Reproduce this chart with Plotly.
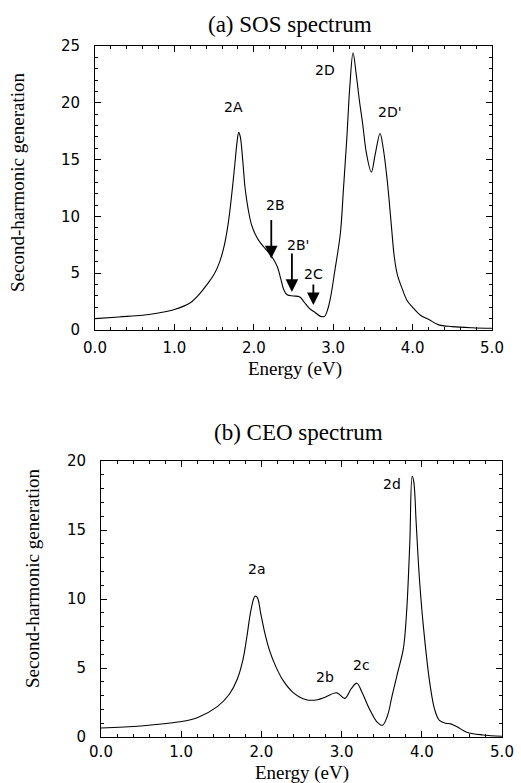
import plotly.graph_objects as go

# ---------------- data ----------------
sos_energy = [0.0, 0.3, 0.6, 0.8, 1.0, 1.2, 1.32, 1.41, 1.50, 1.57, 1.63, 1.68, 1.72, 1.76, 1.79,
              1.81, 1.83, 1.86, 1.89, 1.93, 1.97, 2.02, 2.07, 2.14, 2.20, 2.25, 2.30, 2.34, 2.38,
              2.42, 2.50, 2.58, 2.64, 2.70, 2.78, 2.84, 2.89, 2.93, 2.97, 3.02, 3.09, 3.13, 3.17,
              3.21, 3.25, 3.29, 3.33, 3.37, 3.42, 3.48, 3.53, 3.59, 3.63, 3.68, 3.73, 3.77, 3.81,
              3.86, 3.93, 4.00, 4.10, 4.21, 4.33, 4.50, 4.75, 5.00]
sos_shg = [1.0, 1.15, 1.3, 1.5, 1.8, 2.4, 3.2, 4.0, 4.9, 6.0, 7.5, 9.5, 11.8, 14.5, 16.6,
           17.4, 17.0, 15.0, 12.5, 10.6, 9.3, 8.4, 7.8, 7.2, 6.7, 6.2, 5.5, 4.5, 3.5,
           3.1, 3.0, 2.9, 2.4, 1.9, 1.5, 1.2, 1.2, 1.8, 3.0, 5.2, 8.5, 12.5, 16.7,
           21.5, 24.4, 22.5, 20.2, 18.2, 15.5, 13.9, 15.5, 17.3, 16.0, 13.2, 9.4, 6.4, 4.8,
           3.8, 2.6, 2.0, 1.3, 0.9, 0.45, 0.3, 0.2, 0.15]

ceo_energy = [0.0, 0.5, 0.98, 1.2, 1.45, 1.60, 1.70, 1.77, 1.82, 1.87, 1.92, 1.95, 1.99, 2.04,
              2.10, 2.18, 2.27, 2.40, 2.56, 2.70, 2.80, 2.94, 3.04, 3.12, 3.19, 3.25, 3.35,
              3.44, 3.51, 3.57, 3.63, 3.70, 3.77, 3.81, 3.85, 3.88, 3.90, 3.93, 3.97, 4.02,
              4.10, 4.16, 4.22, 4.30, 4.36, 4.45, 4.56, 4.76, 5.00]
ceo_shg = [0.65, 0.8, 1.1, 1.4, 2.2, 3.1, 4.2, 5.6, 7.3, 9.2, 10.2, 10.1, 9.0, 7.6,
           6.3, 5.1, 4.1, 3.2, 2.7, 2.7, 2.9, 3.2, 2.8, 3.5, 3.9, 3.3, 2.0,
           1.1, 0.85, 1.5, 3.0, 4.7, 6.4, 9.0, 14.0, 18.9, 18.5, 15.5, 11.5, 8.0,
           3.9, 2.0, 1.2, 1.0, 0.95, 0.7, 0.35, 0.15, 0.05]

sos_labels = ["2A", "2D", "2D'"]
sos_label_x = [1.74, 2.90, 3.72]
sos_label_y = [19.6, 22.9, 19.2]

arrow_labels = ["2B", "2B'", "2C"]
arrow_label_x = [2.27, 2.56, 2.75]
arrow_label_y = [11.0, 7.5, 4.9]
arrow_tip_x = [2.22, 2.48, 2.75]
arrow_tip_y = [6.3, 3.35, 2.2]
arrow_len = [40, 40, 22]

ceo_labels = ["2a", "2b", "2c", "2d"]
ceo_label_x = [1.95, 2.79, 3.25, 3.63]
ceo_label_y = [12.2, 4.35, 5.2, 18.3]

# ---------------- figure ----------------
W, H = 521, 783


def px(x):
    return x / W


def py(y):
    return 1 - y / H


fig = go.Figure()
fig.add_trace(go.Scatter(x=sos_energy, y=sos_shg, mode="lines", xaxis="x", yaxis="y",
                         line=dict(color="black", width=1.1, shape="spline", smoothing=1.0),
                         showlegend=False, hoverinfo="skip"))
fig.add_trace(go.Scatter(x=ceo_energy, y=ceo_shg, mode="lines", xaxis="x2", yaxis="y2",
                         line=dict(color="black", width=1.1, shape="spline", smoothing=1.0),
                         showlegend=False, hoverinfo="skip"))

tickfont = dict(family="DejaVu Sans", size=15, color="black")
common = dict(showline=True, linecolor="black", linewidth=1, mirror="allticks",
              ticks="inside", ticklen=6, tickwidth=1, tickcolor="black",
              showgrid=False, zeroline=False, tickfont=tickfont, automargin=False)

xcommon = dict(common, range=[0, 5], tickmode="linear", tick0=0, dtick=1, tickformat=".1f",
               minor=dict(dtick=0.2, tick0=0, ticks="inside", ticklen=3, tickcolor="black",
                          tickwidth=1, showgrid=False))
ycommon = dict(common, tickmode="linear", tick0=0, dtick=5,
               minor=dict(dtick=1, tick0=0, ticks="inside", ticklen=3, tickcolor="black",
                          tickwidth=1, showgrid=False),
               ticklabelstandoff=11)

fig.update_layout(
    template="none",
    width=W, height=H, margin=dict(l=0, r=0, t=0, b=0, autoexpand=False),
    paper_bgcolor="white", plot_bgcolor="white", showlegend=False,
    xaxis=dict(xcommon, domain=[px(95), px(492)], anchor="y", ticklabelstandoff=4),
    yaxis=dict(ycommon, domain=[py(330), py(46)], anchor="x", range=[0, 25]),
    xaxis2=dict(xcommon, domain=[px(101), px(502)], anchor="y2", ticklabelstandoff=1),
    yaxis2=dict(ycommon, domain=[py(737), py(461)], anchor="x2", range=[0, 20]),
)

serif = "Liberation Serif"
ann = []
# titles
ann.append(dict(text="(a) SOS spectrum", x=px(290), y=py(25), xref="paper", yref="paper",
                showarrow=False, xanchor="center", yanchor="middle",
                font=dict(family=serif, size=23, color="black")))
ann.append(dict(text="(b) CEO spectrum", x=px(298), y=py(432), xref="paper", yref="paper",
                showarrow=False, xanchor="center", yanchor="middle",
                font=dict(family=serif, size=23, color="black")))
# axis titles
ann.append(dict(text="Energy (eV)", x=px(295), y=py(369), xref="paper", yref="paper",
                showarrow=False, xanchor="center", yanchor="middle",
                font=dict(family=serif, size=19, color="black")))
ann.append(dict(text="Energy (eV)", x=px(302), y=py(773), xref="paper", yref="paper",
                showarrow=False, xanchor="center", yanchor="middle",
                font=dict(family=serif, size=19, color="black")))
ann.append(dict(text="Second-harmonic generation", x=px(18), y=py(183), xref="paper", yref="paper",
                showarrow=False, xanchor="center", yanchor="middle", textangle=-90,
                font=dict(family=serif, size=19, color="black")))
ann.append(dict(text="Second-harmonic generation", x=px(32), y=py(579), xref="paper", yref="paper",
                showarrow=False, xanchor="center", yanchor="middle", textangle=-90,
                font=dict(family=serif, size=19, color="black")))

lblfont = dict(family="DejaVu Sans", size=14, color="black")
for t, x, y in zip(sos_labels, sos_label_x, sos_label_y):
    ann.append(dict(text=t, x=x, y=y, xref="x", yref="y", showarrow=False, font=lblfont))
for t, x, y in zip(arrow_labels, arrow_label_x, arrow_label_y):
    ann.append(dict(text=t, x=x, y=y, xref="x", yref="y", showarrow=False, font=lblfont))
for x, y, L in zip(arrow_tip_x, arrow_tip_y, arrow_len):
    ann.append(dict(text="", x=x, y=y, xref="x", yref="y", showarrow=True, ax=0, ay=-L,
                    arrowhead=2, arrowsize=1.4, arrowwidth=1.8, arrowcolor="black"))
for t, x, y in zip(ceo_labels, ceo_label_x, ceo_label_y):
    ann.append(dict(text=t, x=x, y=y, xref="x2", yref="y2", showarrow=False, font=lblfont))

fig.update_layout(annotations=ann)
fig.write_html("out.html")
